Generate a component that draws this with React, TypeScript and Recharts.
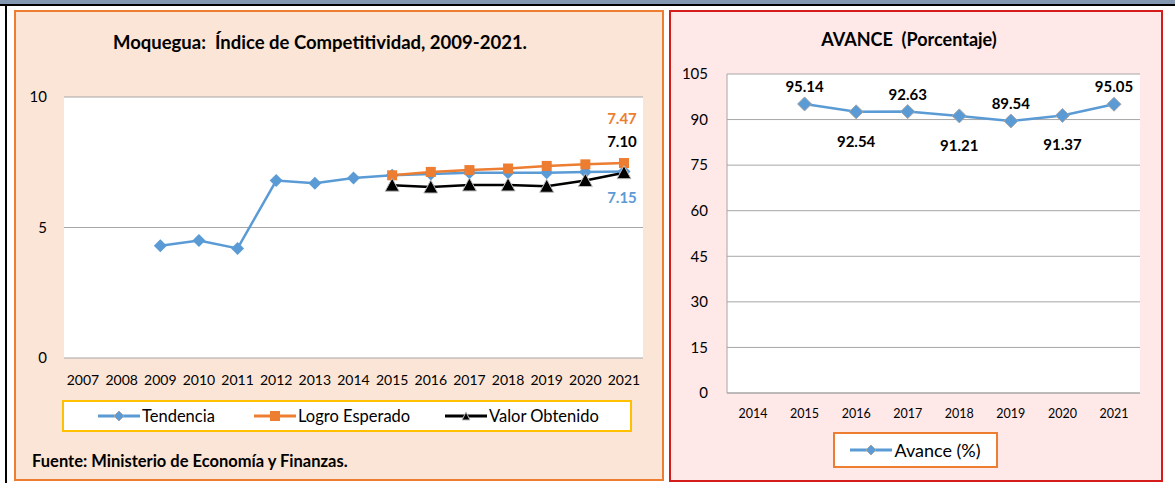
import { CartesianGrid, Line, LineChart, XAxis, YAxis } from "recharts"

const FONT = "Lato, 'Noto Sans', sans-serif"
const BLUE = "#5b9bd5"
const ORANGE = "#ed7d31"
const GRID = "#a6a6a6"

// left chart
const years = ["2007", "2008", "2009", "2010", "2011", "2012", "2013", "2014", "2015", "2016", "2017", "2018", "2019", "2020", "2021"]
const tendencia = [null, null, 4.3, 4.5, 4.2, 6.8, 6.7, 6.9, 7.0, 7.05, 7.1, 7.1, 7.1, 7.13, 7.15]
const logroEsperado = [null, null, null, null, null, null, null, null, 7.0, 7.13, 7.2, 7.26, 7.36, 7.42, 7.47]
const valorObtenido = [null, null, null, null, null, null, null, null, 6.62, 6.55, 6.63, 6.63, 6.58, 6.8, 7.1]
const leftTicks = [0, 5, 10]

// right chart
const avanceYears = ["2014", "2015", "2016", "2017", "2018", "2019", "2020", "2021"]
const avance = [null, 95.14, 92.54, 92.63, 91.21, 89.54, 91.37, 95.05]
const rightTicks = [0, 15, 30, 45, 60, 75, 90, 105]

const leftData = years.map((y, i) => ({
	year: y,
	tendencia: tendencia[i],
	logro: logroEsperado[i],
	obtenido: valorObtenido[i],
}))
const rightData = avanceYears.map((y, i) => ({ year: y, avance: avance[i] }))

const Diamond = ({ cx, cy, size = 6, edge }: any) => {
	if (cx == null || cy == null) return null
	return (
		<polygon
			points={`${cx},${cy - size} ${cx + size},${cy} ${cx},${cy + size} ${cx - size},${cy}`}
			fill={BLUE}
			stroke={edge ?? "none"}
			strokeWidth={1}
		/>
	)
}

const Square = ({ cx, cy }: any) => {
	if (cx == null || cy == null) return null
	return <rect x={cx - 5} y={cy - 5} width={10} height={10} fill={ORANGE} />
}

const Triangle = ({ cx, cy }: any) => {
	if (cx == null || cy == null) return null
	return (
		<polygon
			points={`${cx},${cy - 7} ${cx + 7},${cy + 6} ${cx - 7},${cy + 6}`}
			fill="#000"
			stroke="#bfbfbf"
			strokeWidth={1}
		/>
	)
}

// label only the last point of a series
const lastLabel = (color: string, dy: number) => (props: any) => {
	const { x, y, index, value } = props
	if (index !== years.length - 1 || value == null) return null
	return (
		<text x={x - 2} y={y + dy} fill={color} fontSize={15} fontWeight={700} textAnchor="middle" fontFamily={FONT}>
			{Number(value).toFixed(2)}
		</text>
	)
}

const avanceLabel = (props: any) => {
	const { x, y, index, value } = props
	if (value == null) return null
	const above = index % 2 === 1
	return (
		<text x={x} y={above ? y - 12 : y + 35} fill="#000" fontSize={15} fontWeight={700} textAnchor="middle" fontFamily={FONT}>
			{Number(value).toFixed(2)}
		</text>
	)
}

const LegendItem = ({ color, marker, label }: { color: string; marker: string; label: string }) => (
	<div style={{ display: "flex", alignItems: "center" }}>
		<svg width={42} height={14}>
			<line x1={0} y1={7} x2={42} y2={7} stroke={color} strokeWidth={3} />
			{marker === "diamond" && <polygon points="21,2 26,7 21,12 16,7" fill={BLUE} stroke="#a5a5a5" />}
			{marker === "square" && <rect x={16} y={2} width={10} height={10} fill={ORANGE} />}
			{marker === "triangle" && <polygon points="21,3 25,11 17,11" fill="#000" stroke="#bfbfbf" />}
		</svg>
		<span style={{ marginLeft: 2 }}>{label}</span>
	</div>
)

export default function App() {
	return (
		<div style={{ position: "absolute", left: 0, top: 0, width: 1175, height: 483, background: "#fff", fontFamily: FONT, overflow: "hidden" }}>
			<div style={{ position: "absolute", left: 0, top: 0, width: 1175, height: 4, background: "#8497b0" }} />
			<div style={{ position: "absolute", left: 0, top: 4, width: 1175, height: 2, background: "#000" }} />
			<div style={{ position: "absolute", left: 5, top: 4, width: 2, height: 479, background: "#000" }} />

			{/* left panel */}
			<div style={{ position: "absolute", left: 14, top: 10, width: 646, height: 467, background: "#fbe5d6", border: `2px solid ${ORANGE}` }} />
			<div style={{ position: "absolute", left: 14, top: 31, width: 612, textAlign: "center", fontSize: 18.5, fontWeight: 700 }}>
				Moquegua:&nbsp; Índice de Competitividad, 2009-2021.
			</div>
			<div style={{ position: "absolute", left: 0, top: 0 }}>
				<LineChart width={660} height={400} data={leftData} margin={{ top: 97, right: 17, left: 14, bottom: 12 }}>
					<CartesianGrid vertical={false} stroke={GRID} fill="#fff" />
					<XAxis
						dataKey="year"
						tickLine={false}
						axisLine={false}
						tickMargin={11}
						height={30}
						padding={{ left: 19, right: 19 }}
						tick={{ fontSize: 14, fill: "#000", fontFamily: FONT }}
						interval={0}
					/>
					<YAxis
						domain={[0, 10]}
						ticks={leftTicks}
						tickLine={false}
						axisLine={false}
						width={50}
						tickMargin={11}
						tick={{ fontSize: 15, fill: "#000", fontFamily: FONT }}
					/>
					<Line dataKey="tendencia" stroke={BLUE} strokeWidth={2.5} dot={<Diamond size={6.5} />} activeDot={false} isAnimationActive={false} label={lastLabel(BLUE, 32)} />
					<Line dataKey="logro" stroke={ORANGE} strokeWidth={2.5} dot={<Square />} activeDot={false} isAnimationActive={false} label={lastLabel(ORANGE, -39)} />
					<Line dataKey="obtenido" stroke="#000" strokeWidth={2.5} dot={<Triangle />} activeDot={false} isAnimationActive={false} label={lastLabel("#000", -26)} />
				</LineChart>
			</div>
			<div
				style={{
					position: "absolute", left: 62, top: 400, width: 566, height: 28, background: "#fff", border: "2px solid #ffc000",
					display: "flex", alignItems: "center", fontSize: 16.5,
				}}
			>
				<div style={{ position: "absolute", left: 34 }}><LegendItem color={BLUE} marker="diamond" label="Tendencia" /></div>
				<div style={{ position: "absolute", left: 190 }}><LegendItem color={ORANGE} marker="square" label="Logro Esperado" /></div>
				<div style={{ position: "absolute", left: 381 }}><LegendItem color="#000" marker="triangle" label="Valor Obtenido" /></div>
			</div>
			<div style={{ position: "absolute", left: 32, top: 451, fontSize: 16.5, fontWeight: 700 }}>
				Fuente: Ministerio de Economía y Finanzas.
			</div>

			{/* right panel */}
			<div style={{ position: "absolute", left: 669, top: 10, width: 490, height: 468, background: "#ffe8e8", border: "2px solid #d41c1c" }} />
			<div style={{ position: "absolute", left: 669, top: 28, width: 480, textAlign: "center", fontSize: 18, fontWeight: 700 }}>
				AVANCE&nbsp;&nbsp;(Porcentaje)
			</div>
			<div style={{ position: "absolute", left: 669, top: 0 }}>
				<LineChart width={494} height={483} data={rightData} margin={{ top: 74, right: 23, left: 8, bottom: 60 }}>
					<CartesianGrid vertical={false} stroke={GRID} fill="#fff" />
					<XAxis
						dataKey="year"
						tickLine={false}
						axisLine={{ stroke: GRID }}
						tickMargin={10}
						height={30}
						padding={{ left: 26, right: 26 }}
						tick={{ fontSize: 12.5, fill: "#000", fontFamily: FONT }}
						interval={0}
					/>
					<YAxis
						domain={[0, 105]}
						ticks={rightTicks}
						tickLine={false}
						axisLine={{ stroke: GRID }}
						width={50}
						tickMargin={13}
						tick={{ fontSize: 15, fill: "#000", fontFamily: FONT }}
					/>
					<Line dataKey="avance" stroke={BLUE} strokeWidth={2.5} dot={<Diamond size={7} edge="#a5a5a5" />} activeDot={false} isAnimationActive={false} label={avanceLabel} />
				</LineChart>
			</div>
			<div
				style={{
					position: "absolute", left: 833, top: 432, width: 161, height: 32, background: "#fff", border: `2px solid ${ORANGE}`,
					display: "flex", alignItems: "center", justifyContent: "center", fontSize: 18,
				}}
			>
				<LegendItem color={BLUE} marker="diamond" label="Avance (%)" />
			</div>
		</div>
	)
}
